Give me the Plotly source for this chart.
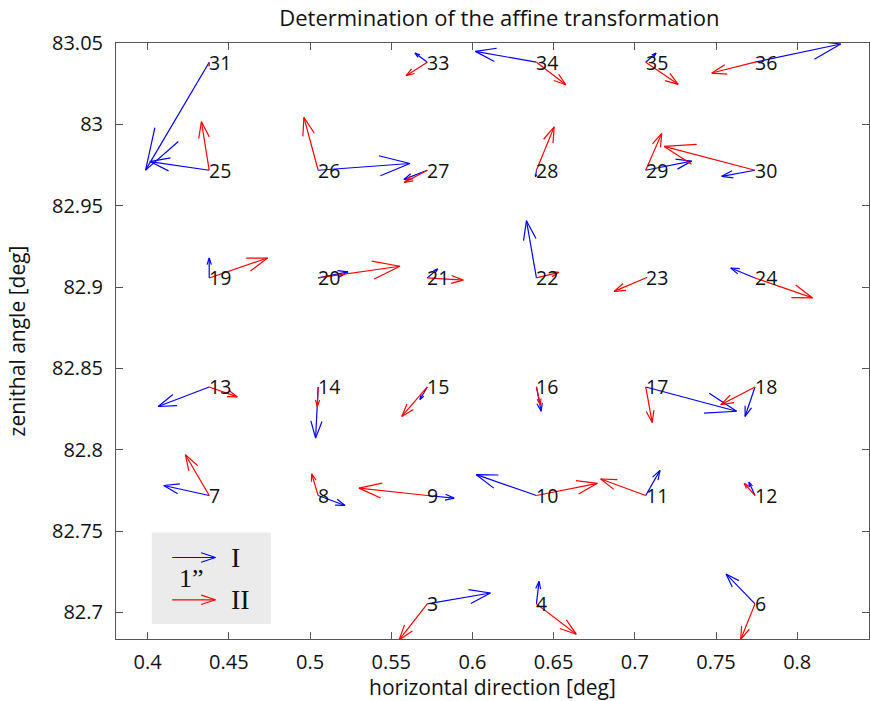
import numpy as np
import plotly.graph_objects as go
import plotly.figure_factory as ff

# ---- data -------------------------------------------------------------
point_id = [3, 4, 6,
            7, 8, 9, 10, 11, 12,
            13, 14, 15, 16, 17, 18,
            19, 20, 21, 22, 23, 24,
            25, 26, 27, 28, 29, 30,
            31, 33, 34, 35, 36]
col_x = [0.4379, 0.5050, 0.5722, 0.6394, 0.7067, 0.7740]
row_y = [82.7053, 82.7719, 82.8386, 82.9056, 82.9718, 83.0382]

# displacement of method I (blue) and method II (red), arcsec
dI_x = [1.46, 0.06, -0.67,
        -1.05, 0.62, 0.62, -1.39, 0.33, -0.14,
        -1.18, -0.06, -0.17, 0.11, 2.10, -0.23,
        0.00, 0.69, 0.24, -0.23, 0.03, -0.56,
        -1.37, 2.12, -0.54, -0.02, 1.06, -0.77,
        -1.47, -0.285, -1.41, 0.24, 1.98]
dI_y = [0.25, 0.52, 0.69,
        0.23, -0.23, -0.06, 0.48, 0.58, 0.31,
        -0.45, -1.18, -0.29, -0.56, -0.56, -0.68,
        0.46, 0.14, 0.21, 1.32, 0.01, 0.23,
        0.20, 0.155, -0.21, -0.15, 0.21, -0.14,
        -2.49, 0.21, 0.25, 0.21, 0.42]
dII_x = [-0.65, 0.92, -0.33,
         -0.55, -0.15, -1.58, 1.41, -1.04, -0.25,
         0.65, -0.02, -0.59, 0.09, 0.15, -0.79,
         1.35, 1.89, 0.83, 0.52, -0.73, 1.33,
         -0.18, -0.33, -0.53, 0.41, 0.37, -2.10,
         0.00, -0.49, 0.68, 0.75, -1.00]
dII_y = [-0.83, -0.70, -0.82,
         0.94, 0.50, 0.17, 0.28, 0.38, 0.28,
         -0.23, -0.45, -0.68, -0.41, -0.82, -0.41,
         0.46, 0.27, -0.05, 0.13, -0.31, -0.46,
         1.12, 1.22, -0.28, 1.00, 0.85, 0.55,
         -0.09, -0.31, -0.52, -0.51, -0.25]

x_ticks = [0.4, 0.45, 0.5, 0.55, 0.6, 0.65, 0.7, 0.75, 0.8]
x_ticktext = ["0.4", "0.45", "0.5", "0.55", "0.6", "0.65", "0.7", "0.75", "0.8"]
y_ticks = [82.7, 82.75, 82.8, 82.85, 82.9, 82.95, 83.0, 83.05]
y_ticktext = ["82.7", "82.75", "82.8", "82.85", "82.9", "82.95", "83", "83.05"]

legend_len_arcsec = 1.0
legend_x = 0.4151
legend_yI = 82.7338
legend_yII = 82.7078

# ---- geometry helpers ------------------------------------------------
SCALE = 0.02665          # deg per arcsec of displacement on the plot
X_RANGE = [0.3805, 0.8442]
Y_RANGE = [82.6837, 83.05]


def pos(pid):
    k = pid - 1
    return col_x[k % 6], row_y[k // 6]


px = np.array([pos(p)[0] for p in point_id])
py = np.array([pos(p)[1] for p in point_id])

BLUE = "#0000ff"
RED = "#ff0000"


def quiver(x, y, u, v, color):
    q = ff.create_quiver(x, y, np.asarray(u) * SCALE, np.asarray(v) * SCALE,
                         scale=1, arrow_scale=0.3475, angle=0.3187,
                         line=dict(color=color, width=1.2))
    tr = q.data[0]
    tr.update(showlegend=False, hoverinfo="skip", mode="lines")
    return tr


fig = go.Figure()

# legend box
fig.add_shape(type="rect", xref="x", yref="y",
              x0=0.4025, x1=0.4759, y0=82.6929, y1=82.7492,
              fillcolor="#ebebeb", line=dict(width=0), layer="below")

lx = np.concatenate([px, [legend_x]])
lyI = np.concatenate([py, [legend_yI]])
lyII = np.concatenate([py, [legend_yII]])
fig.add_trace(quiver(lx, lyI, list(dI_x) + [legend_len_arcsec], list(dI_y) + [0.0], BLUE))
fig.add_trace(quiver(lx, lyII, list(dII_x) + [legend_len_arcsec], list(dII_y) + [0.0], RED))

# point labels
for pid, x, y in zip(point_id, px, py):
    fig.add_annotation(x=x, y=y, text=str(pid), showarrow=False,
                       xanchor="left", yanchor="middle", xshift=-2,
                       font=dict(family="Open Sans", size=19.5, color="#111"))

serif = dict(family="Liberation Serif", size=28, color="#111")
fig.add_annotation(x=legend_x + SCALE * legend_len_arcsec, y=legend_yI, text="I",
                   showarrow=False, xanchor="left", yanchor="middle", xshift=14, font=serif)
fig.add_annotation(x=legend_x + SCALE * legend_len_arcsec, y=legend_yII, text="II",
                   showarrow=False, xanchor="left", yanchor="middle", xshift=14, font=serif)
fig.add_annotation(x=legend_x + SCALE * legend_len_arcsec * 0.45, y=(legend_yI + legend_yII) / 2,
                   text="1\u201d", showarrow=False, xanchor="center", yanchor="middle",
                   font=dict(family="Liberation Serif", size=26, color="#111"))

axis_common = dict(showline=True, linecolor="#555", linewidth=1, mirror="ticks",
                   ticks="inside", ticklen=7, tickcolor="#555", showgrid=False,
                   zeroline=False, automargin=False,
                   tickfont=dict(family="Open Sans", size=20, color="#111"))

fig.update_layout(
    width=870, height=701,
    margin=dict(l=116, r=1, t=43, b=62, autoexpand=False),
    paper_bgcolor="white", plot_bgcolor="white",
    title=dict(text="Determination of the affine transformation",
               x=0.574, xanchor="center", y=0.974, yanchor="middle",
               font=dict(family="Open Sans", size=22, color="#111"),
               automargin=False),
    xaxis=dict(range=X_RANGE, tickvals=x_ticks, ticktext=x_ticktext,
               title=dict(text="horizontal direction [deg]", standoff=7,
                          font=dict(family="Open Sans", size=21, color="#111")),
               ticklabelstandoff=5, **axis_common),
    yaxis=dict(range=Y_RANGE, tickvals=y_ticks, ticktext=y_ticktext,
               title=dict(text="zenithal angle [deg]", standoff=20,
                          font=dict(family="Open Sans", size=21, color="#111")),
               ticklabelstandoff=8, **axis_common),
    showlegend=False,
)

fig.write_html("out.html",
               config={"displayModeBar": False},
               post_script="document.body.style.margin='0';"
                           "document.body.style.overflow='hidden';")
